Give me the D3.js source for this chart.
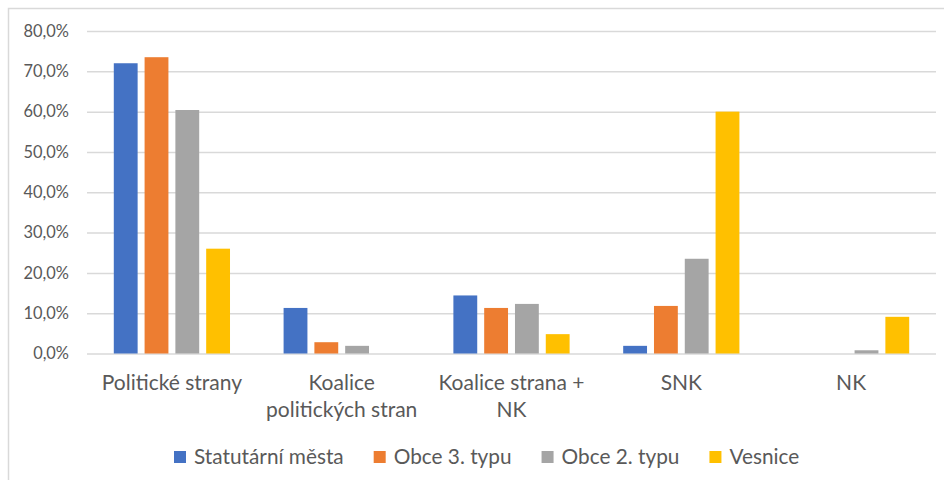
<!DOCTYPE html>
<html>
<head>
<meta charset="utf-8">
<script src="https://cdn.jsdelivr.net/npm/d3@7"></script>
<style>
	html, body { margin: 0; padding: 0; background: #fff; }
	svg text { font-family: Lato, "Open Sans", sans-serif; fill: #595959; }
</style>
</head>
<body>
<div id="chart"></div>
<script>
	// chart data
	var categories = ['Politické strany', 'Koalice politických stran', 'Koalice strana + NK', 'SNK', 'NK'];
	var categoryLines = [['Politické strany'], ['Koalice', 'politických stran'], ['Koalice strana +', 'NK'], ['SNK'], ['NK']];
	var seriesNames = ['Statutární města', 'Obce 3. typu', 'Obce 2. typu', 'Vesnice'];
	var seriesColors = ['#4472C4', '#ED7D31', '#A5A5A5', '#FFC000'];
	var statutarniMesta = [0.720, 0.113, 0.144, 0.019, 0];
	var obce3Typu = [0.735, 0.028, 0.113, 0.118, 0];
	var obce2Typu = [0.604, 0.019, 0.123, 0.235, 0.008];
	var vesnice = [0.260, 0, 0.048, 0.600, 0.091];
	var yTicks = [0, 0.1, 0.2, 0.3, 0.4, 0.5, 0.6, 0.7, 0.8];

	var seriesValues = [statutarniMesta, obce3Typu, obce2Typu, vesnice];

	var cfg = { width: 944, height: 480, left: 87, right: 8, top: 31, bottom: 126.5 };

	var svg = d3.select('#chart')
		.append('svg')
		.attr('width', cfg.width)
		.attr('height', cfg.height);

	// outer chart border (runs off right and bottom edge)
	svg.append('rect')
		.attr('x', 8.5).attr('y', 8.5)
		.attr('width', cfg.width + 10).attr('height', cfg.height + 10)
		.attr('fill', 'none')
		.attr('stroke', '#D9D9D9')
		.attr('stroke-width', 1.5);

	var innerH = cfg.height - cfg.top - cfg.bottom;

	var x0 = d3.scaleBand().domain(categories).range([cfg.left, cfg.width - cfg.right]);
	var x1 = d3.scaleBand().domain(seriesNames).range([0, x0.bandwidth()])
		.paddingInner(0.226).paddingOuter(0.87);
	var y = d3.scaleLinear().domain([0, 0.8]).range([cfg.top + innerH, cfg.top]);

	var czech = d3.formatLocale({ decimal: ',', thousands: ' ', grouping: [3], currency: ['', ' Kč'] });
	var pct = czech.format('.1%');

	// gridlines
	svg.append('g')
		.attr('class', 'grid')
		.attr('transform', 'translate(' + cfg.left + ',0)')
		.call(d3.axisLeft(y).tickValues(yTicks).tickSize(-(cfg.width - cfg.right - cfg.left)).tickFormat(''))
		.call(function (g) { g.select('.domain').remove(); })
		.selectAll('line')
		.attr('stroke', '#D9D9D9')
		.attr('stroke-width', 1.5);

	// y axis labels
	var yAxis = svg.append('g')
		.attr('transform', 'translate(' + (cfg.left - 18) + ',0)')
		.call(d3.axisLeft(y).tickValues(yTicks).tickSize(0).tickPadding(0).tickFormat(pct));
	yAxis.select('.domain').remove();
	yAxis.selectAll('text')
		.attr('font-size', '16.4px')
		.style('font-family', 'Lato, sans-serif')
		.attr('fill', '#595959');

	// bars
	var groups = svg.append('g')
		.selectAll('g')
		.data(categories)
		.enter()
		.append('g')
		.attr('transform', function (d) { return 'translate(' + x0(d) + ',0)'; });

	groups.selectAll('rect')
		.data(function (d, i) {
			return seriesNames.map(function (s, j) { return { series: s, value: seriesValues[j][i], color: seriesColors[j] }; });
		})
		.enter()
		.append('rect')
		.attr('x', function (d) { return x1(d.series); })
		.attr('width', x1.bandwidth())
		.attr('y', function (d) { return y(d.value); })
		.attr('height', function (d) { return y(0) - y(d.value); })
		.attr('fill', function (d) { return d.color; });

	// category labels
	var xLabels = svg.append('g')
		.selectAll('text')
		.data(categories)
		.enter()
		.append('text')
		.attr('text-anchor', 'middle')
		.attr('font-size', '21px')
		.attr('x', function (d) { return x0(d) + x0.bandwidth() / 2; })
		.attr('y', y(0) + 36.5);

	xLabels.selectAll('tspan')
		.data(function (d, i) { return categoryLines[i]; })
		.enter()
		.append('tspan')
		.attr('x', function () { return d3.select(this.parentNode).attr('x'); })
		.attr('dy', function (d, i) { return i === 0 ? 0 : 26.5; })
		.text(function (d) { return d; });

	// legend
	var legend = svg.append('g').attr('transform', 'translate(174,0)');
	var lx = 0;
	seriesNames.forEach(function (name, i) {
		var item = legend.append('g').attr('transform', 'translate(' + lx + ',0)');
		item.append('rect')
			.attr('x', 0).attr('y', 451)
			.attr('width', 12).attr('height', 12)
			.attr('fill', seriesColors[i]);
		var t = item.append('text')
			.attr('x', 20).attr('y', 464)
			.attr('font-size', '20.8px')
			.text(name);
		lx += 20 + t.node().getComputedTextLength() + 30;
	});
</script>
</body>
</html>
